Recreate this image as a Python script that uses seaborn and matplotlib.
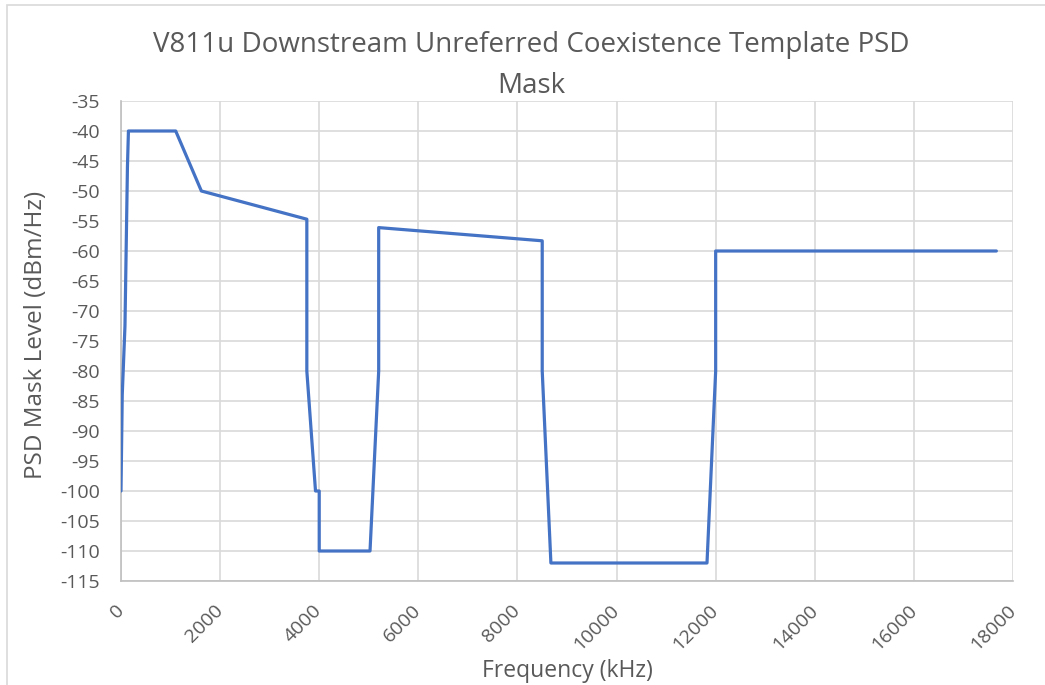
import numpy as np
import pandas as pd
import seaborn as sns
import matplotlib.pyplot as plt
from matplotlib.patches import Rectangle

# PSD mask breakpoints
freq_khz = [0, 25, 80, 130, 150, 1104, 1622, 3750, 3750, 3925, 4000, 4000,
            5025, 5200, 5200, 8500, 8500, 8675, 11825, 12000, 12000, 17664]
psd_dbm = [-100, -84, -72.5, -46, -40, -40, -50, -54.7, -80, -100, -100, -110,
           -110, -80, -56.1, -58.3, -80, -112, -112, -80, -60, -60]

x_ticks = list(range(0, 18001, 2000))
y_ticks = list(range(-115, -34, 5))

TEXT = "#595959"
GRID = "#d9d9d9"
AXIS = "#bfbfbf"
LINE = "#4472c4"

sns.set_theme(style="white")
plt.rcParams['font.family'] = ['Open Sans', 'DejaVu Sans']

df = pd.DataFrame({"freq": freq_khz, "psd": psd_dbm})

fig = plt.figure(figsize=(10.45, 6.85), dpi=100)
ax = fig.add_axes([121 / 1045, 1 - 581 / 685, (1013 - 121) / 1045, (581 - 101) / 685])

sns.lineplot(data=df, x="freq", y="psd", sort=False, estimator=None,
             color=LINE, linewidth=2.3, ax=ax, zorder=3)

ax.set_xlim(0, 18000)
ax.set_ylim(-115, -35)
ax.set_xticks(x_ticks)
ax.set_yticks(y_ticks)
ax.set_xticklabels([str(t) for t in x_ticks], rotation=45, ha="right", va="center",
                   rotation_mode="anchor", color=TEXT, fontsize=14)
ax.set_yticklabels([str(t) for t in y_ticks], color=TEXT, fontsize=14)
ax.tick_params(axis="both", length=0)
ax.tick_params(axis="y", pad=15)
ax.tick_params(axis="x", pad=19)

ax.grid(True, color=GRID, linewidth=1.2)
ax.set_axisbelow(True)
for side in ["top", "right"]:
    ax.spines[side].set_visible(False)
for side in ["left", "bottom"]:
    ax.spines[side].set_color(AXIS)
    ax.spines[side].set_linewidth(1.2)

ax.set_xlabel("")
ax.set_ylabel("")
fig.text(567 / 1045, 1 - 671 / 685, "Frequency (kHz)", ha="center", va="center",
         color=TEXT, fontsize=16.5)
fig.text(36 / 1045, 1 - 335 / 685, "PSD Mask Level (dBm/Hz)", ha="center", va="center",
         rotation=90, color=TEXT, fontsize=17.5)

fig.text(531 / 1045, 1 - 45 / 685, "V811u Downstream Unreferred Coexistence Template PSD",
         ha="center", va="center", color=TEXT, fontsize=20)
fig.text(531 / 1045, 1 - 86 / 685, "Mask", ha="center", va="center", color=TEXT, fontsize=20)

# chart area border
fig.patches.append(Rectangle((7 / 1045, -0.1), 1.2, 1 - 5 / 685 + 0.1,
                             transform=fig.transFigure, fill=False,
                             edgecolor=GRID, linewidth=1.2))

fig.savefig("out.png", dpi=100)
